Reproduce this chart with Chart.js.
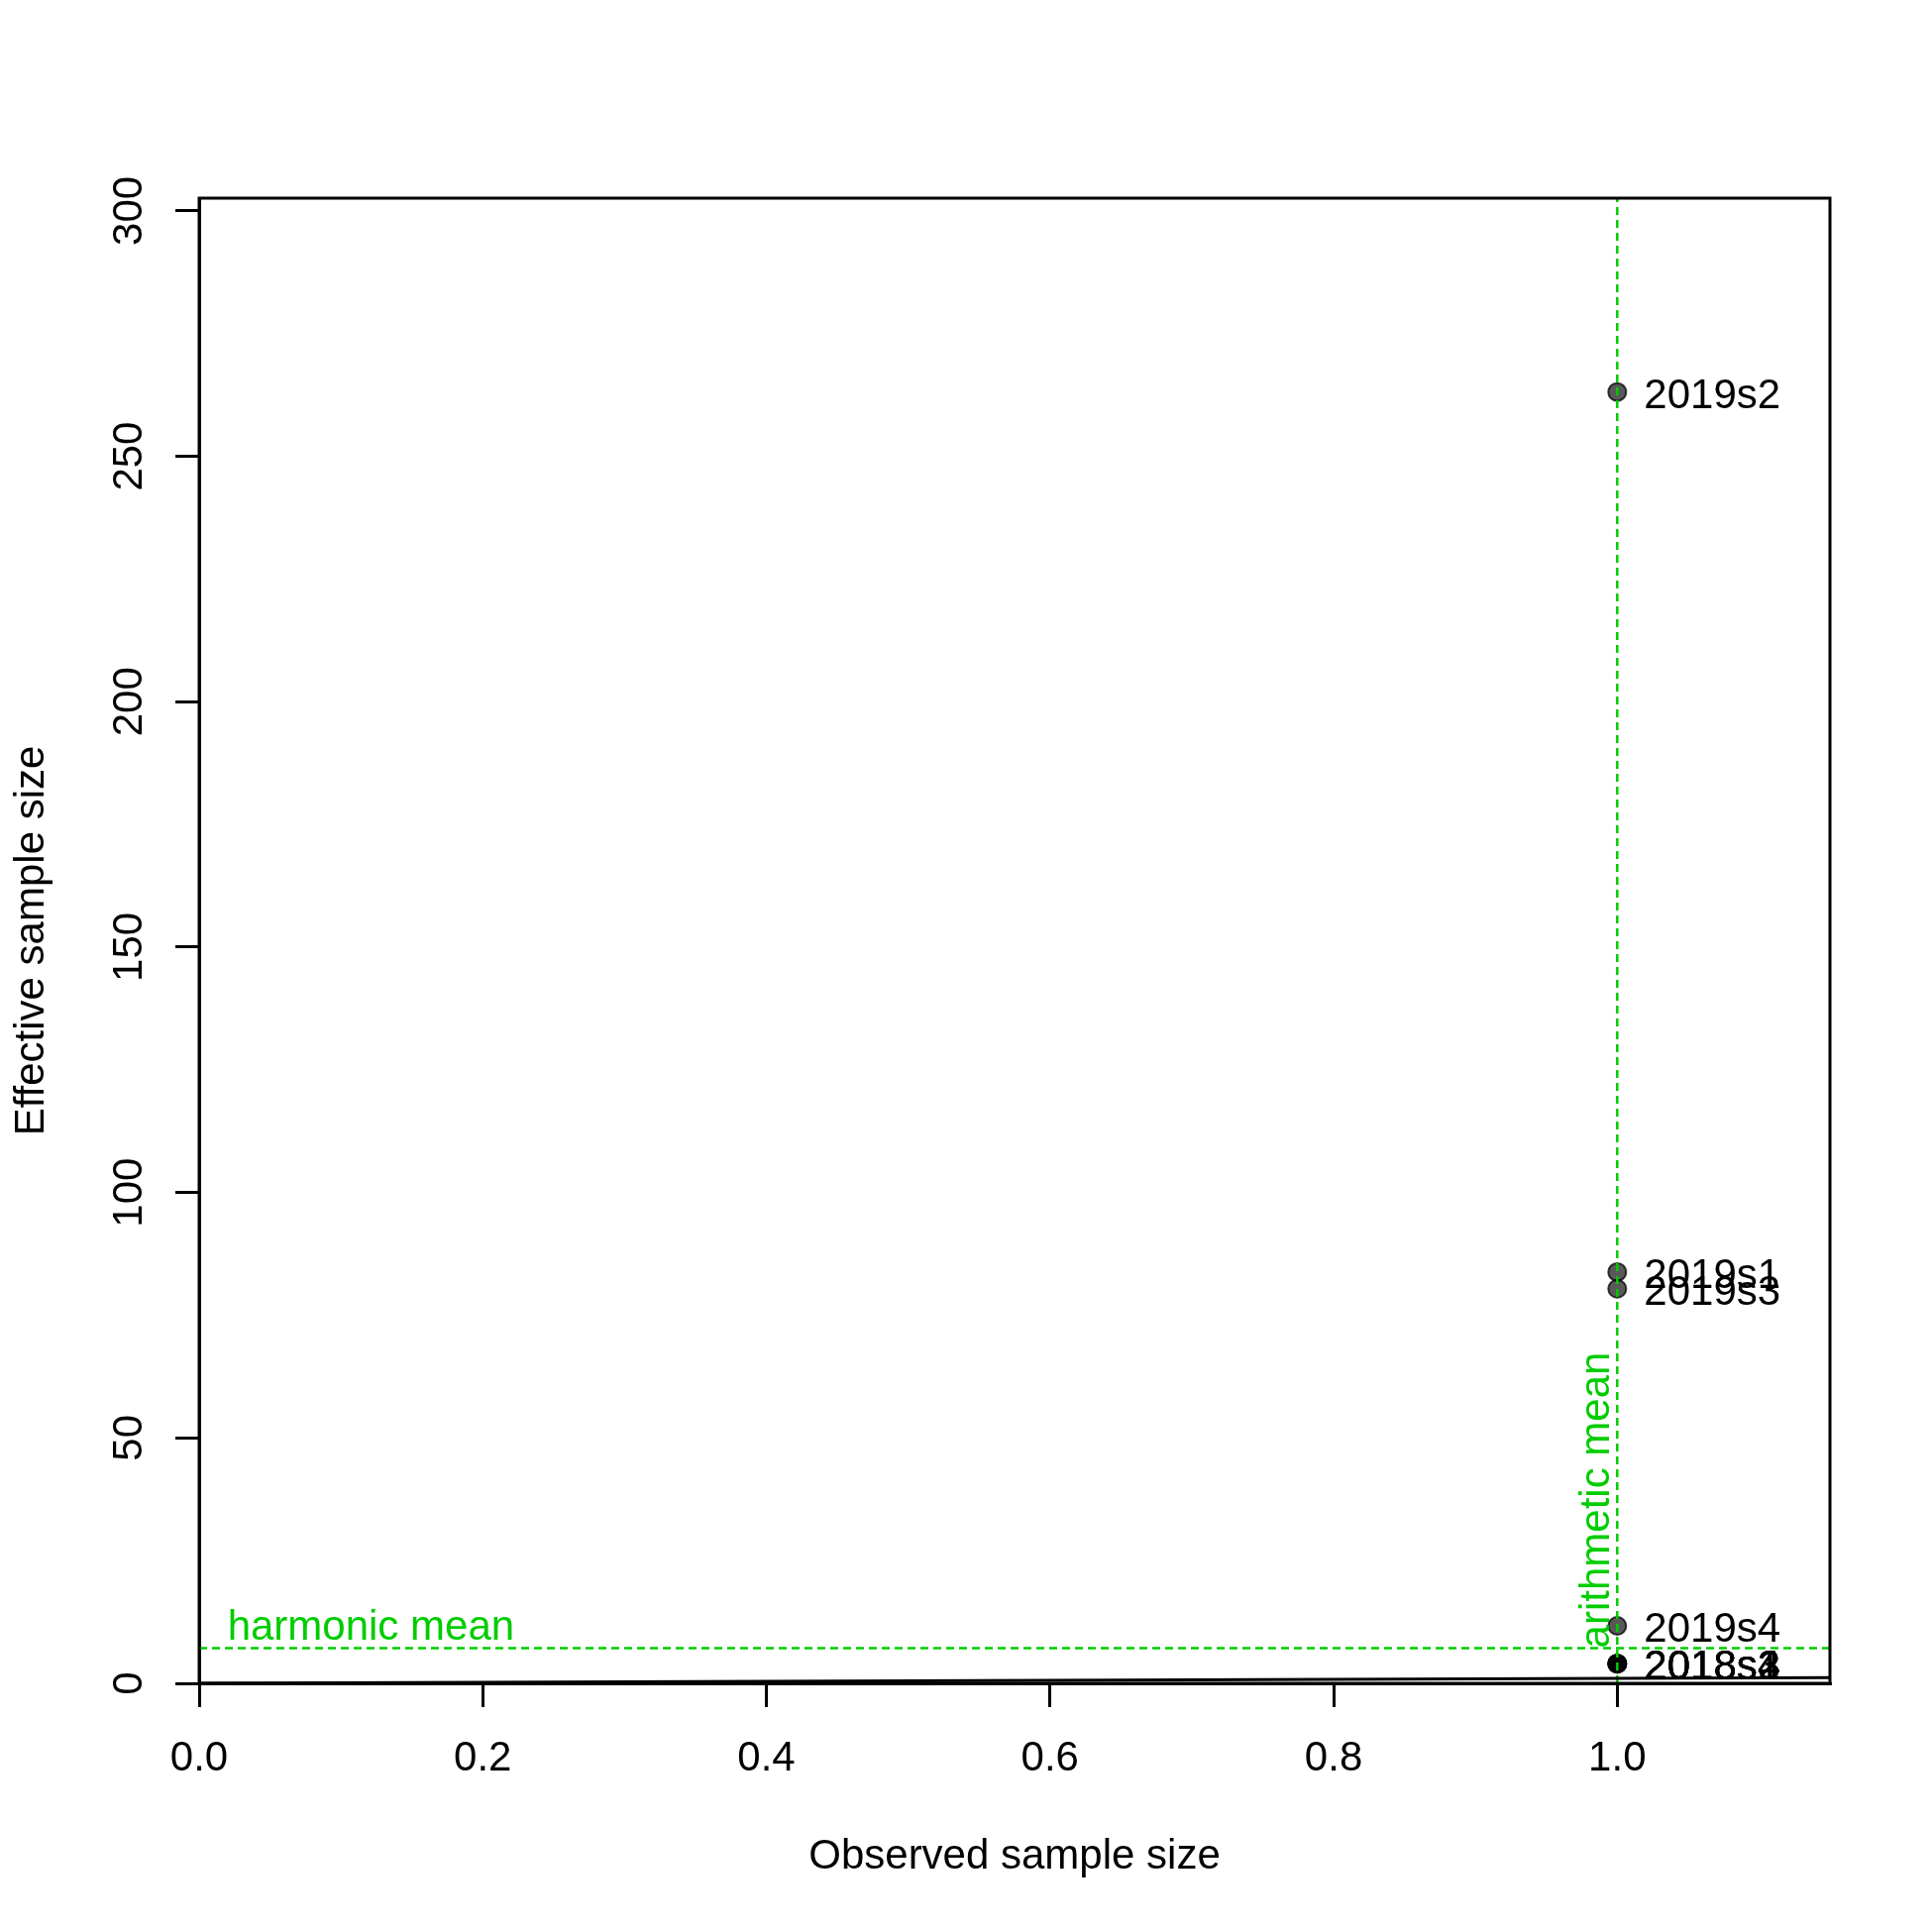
<!DOCTYPE html>
<html>
<head>
<meta charset="utf-8">
<script src="https://cdn.jsdelivr.net/npm/chart.js@4/dist/chart.umd.min.js"></script>
<style>
  body { margin: 0; background: #fff; }
  canvas { display: block; }
</style>
</head>
<body>
<canvas id="CHART" width="1950" height="1950"></canvas>
<script>
// data
const labels = ["2018s1", "2018s2", "2018s3", "2018s4", "2019s1", "2019s2", "2019s3", "2019s4"]
const observed = [1, 1, 1, 1, 1, 1, 1, 1]
const effective = [4.0, 4.0, 4.0, 4.0, 83.8, 263.1, 80.4, 11.7]

const xMin = 0, xMax = 1.15
const yMin = 0, yMax = 302.6

// means drawn as reference lines
const arith = observed.reduce((a, b) => a + b, 0) / observed.length
const harm = effective.length / effective.reduce((a, b) => a + 1 / b, 0)

const GREEN = "#00CD00"
const FONT = "'Liberation Sans', Arial, sans-serif"
const FS = 42

Chart.defaults.font.family = FONT
Chart.defaults.font.size = FS
Chart.defaults.color = "#000"

const points = labels.map((l, i) => ({x: observed[i], y: effective[i]}))

const boxAndText = {
  id: "boxAndText",
  afterDraw(chart) {
    const ctx = chart.ctx
    const a = chart.chartArea
    const xs = chart.scales.x, ys = chart.scales.y
    ctx.save()
    // box
    ctx.strokeStyle = "#000"
    ctx.lineWidth = 3
    ctx.strokeRect(a.left, a.top, a.right - a.left, a.bottom - a.top)

    // y tick labels, rotated like R
    ctx.fillStyle = "#000"
    ctx.font = FS + "px " + FONT
    ctx.textAlign = "center"
    ctx.textBaseline = "alphabetic"
    ys.ticks.forEach(t => {
      const py = ys.getPixelForValue(t.value)
      ctx.save()
      ctx.translate(143, py)
      ctx.rotate(-Math.PI / 2)
      ctx.fillText(String(t.value), 0, 0)
      ctx.restore()
    })

    // point labels
    ctx.textAlign = "left"
    const meta = chart.getDatasetMeta(3)
    meta.data.forEach((el, i) => {
      ctx.fillText(labels[i], el.x + 27, el.y + 16)
    })

    // mean labels
    ctx.fillStyle = GREEN
    ctx.fillText("harmonic mean", xs.getPixelForValue(0.02), ys.getPixelForValue(harm) - 8)
    ctx.save()
    ctx.translate(xs.getPixelForValue(arith) - 8, ys.getPixelForValue(harm))
    ctx.rotate(-Math.PI / 2)
    ctx.fillText("arithmetic mean", 0, 0)
    ctx.restore()
    ctx.restore()
  }
}

new Chart("CHART", {
  type: "scatter",
  data: {
    datasets: [
      {
        type: "line",
        data: [{x: xMin, y: xMin}, {x: xMax, y: xMax}],
        borderColor: "#000",
        borderWidth: 3,
        pointRadius: 0
      },
      {
        type: "line",
        data: [{x: xMin, y: harm}, {x: xMax, y: harm}],
        borderColor: GREEN,
        borderWidth: 2.5,
        borderDash: [8, 5],
        pointRadius: 0
      },
      {
        type: "line",
        data: [{x: arith, y: yMin}, {x: arith, y: yMax}],
        borderColor: GREEN,
        borderWidth: 2.5,
        borderDash: [8, 5],
        pointRadius: 0
      },
      {
        data: points,
        backgroundColor: "rgba(0,0,0,0.65)",
        borderColor: "rgba(0,0,0,0.75)",
        borderWidth: 2,
        pointRadius: 9
      }
    ]
  },
  options: {
    responsive: false,
    animation: false,
    devicePixelRatio: 1,
    layout: {padding: {top: 200, right: 103, left: 0, bottom: 0}},
    plugins: {legend: {display: false}, tooltip: {enabled: false}},
    scales: {
      x: {
        type: "linear",
        min: xMin, max: xMax,
        afterFit: s => { s.height = 251 },
        grid: {drawOnChartArea: false, drawTicks: true, tickLength: 24, color: "#000", lineWidth: 3},
        border: {display: true, color: "#000", width: 3},
        ticks: {stepSize: 0.2, includeBounds: false, padding: 27, maxRotation: 0,
                callback: v => v.toFixed(1)},
        title: {display: true, text: "Observed sample size", padding: {top: 0, bottom: 50}}
      },
      y: {
        type: "linear",
        min: yMin, max: yMax,
        afterFit: s => { s.width = 201 },
        grid: {drawOnChartArea: false, drawTicks: true, tickLength: 24, color: "#000", lineWidth: 3},
        border: {display: true, color: "#000", width: 3},
        ticks: {stepSize: 50, includeBounds: false, color: "rgba(0,0,0,0)"},
        title: {display: true, text: "Effective sample size", padding: {top: 7, bottom: 0}}
      }
    }
  },
  plugins: [boxAndText]
})
</script>
</body>
</html>
